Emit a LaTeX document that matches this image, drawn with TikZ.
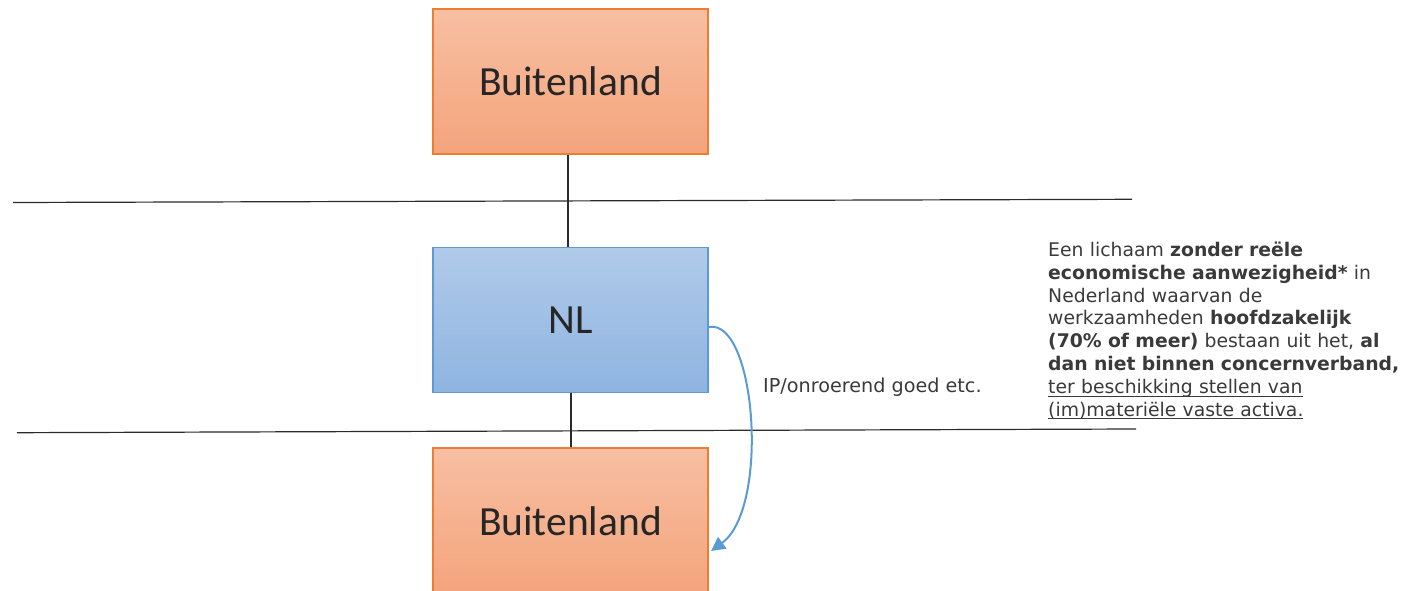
\documentclass[tikz,border=0pt]{standalone}
\usepackage{fontspec}
\setmainfont{DejaVu Sans}
\newfontfamily\labelfont{Carlito}
\usetikzlibrary{arrows.meta}
\definecolor{orangeline}{HTML}{ED7D31}
\definecolor{orangetop}{HTML}{F7BFA2}
\definecolor{orangebot}{HTML}{F4A47C}
\definecolor{blueline}{HTML}{5B9BD5}
\definecolor{bluetop}{HTML}{B0CAE9}
\definecolor{bluebot}{HTML}{8EB4E1}
\definecolor{labelgray}{HTML}{262626}
\definecolor{textgray}{HTML}{3A3A3A}
\definecolor{rulegray}{HTML}{2B2B2B}
% underline at a fixed distance below the baseline
\newcommand{\ulfixed}[1]{\leavevmode\setbox0\hbox{#1}\rlap{\rule[-2.8pt]{\wd0}{0.9pt}}\box0}
\tikzset{
  country/.style={draw=orangeline, line width=1.2pt, top color=orangetop, bottom color=orangebot,
    minimum width=275pt, minimum height=145pt, inner sep=0pt,
    font=\labelfont\fontsize{41.5}{45}\selectfont, text=labelgray},
  home/.style={country, draw=blueline, top color=bluetop, bottom color=bluebot},
  divider/.style={draw=rulegray, line width=1.2pt},
  link/.style={draw=rulegray, line width=1.2pt},
  flow/.style={draw=blueline, line width=2pt, -{Triangle[length=14pt,width=14pt]}},
  note/.style={font=\fontsize{18.8}{22.9}\selectfont, text=textgray, inner sep=0pt}
}
\begin{document}
\begin{tikzpicture}[x=1pt,y=-1pt]
  \useasboundingbox (0,0) rectangle (1402,591);
  % boxes
  \node[country] (top) at (570.5,81.5) {Buitenland};
  \node[home] (nl) at (570.5,320) {NL};
  \node[country, minimum height=146pt] (bottom) at (570.5,521) {Buitenland};
  % connectors between the levels
  \draw[link] ([xshift=-2.5pt]top.south) -- ([xshift=-2.5pt]nl.north);
  \draw[link] ([xshift=0.5pt]nl.south) -- ([xshift=0.5pt]bottom.north);
  % border lines
  \coordinate (b1l) at (13,202.5);
  \coordinate (b1r) at (1132,199.3);
  \coordinate (b2l) at (17,432.7);
  \coordinate (b2r) at (1136,429);
  \draw[divider] (b1l) -- (b1r);
  \draw[divider] (b2l) -- (b2r);
  % flow from NL abroad
  \coordinate (flowend) at (711,551);
  \draw[flow] ([yshift=-7pt]nl.east) .. controls (756,318) and (770,508) .. (flowend);
  \node[note, font=\fontsize{19.2}{21}\selectfont, anchor=base west] (ip) at (763,392) {IP/onroerend goed etc.};
  % explanation
  \node[note, anchor=north west, text width=360pt, align=left] (expl) at (1048,241.5) {%
    Een lichaam \textbf{zonder reële}\\
    \textbf{economische aanwezigheid*} in\\
    Nederland waarvan de\\
    werkzaamheden \textbf{hoofdzakelijk}\\
    \textbf{(70\% of meer)} bestaan uit het, \textbf{al}\\
    \textbf{dan niet binnen concernverband,}\\
    \ulfixed{ter beschikking stellen van}\\
    \ulfixed{(im)materiële vaste activa.}};
\end{tikzpicture}
\end{document}
